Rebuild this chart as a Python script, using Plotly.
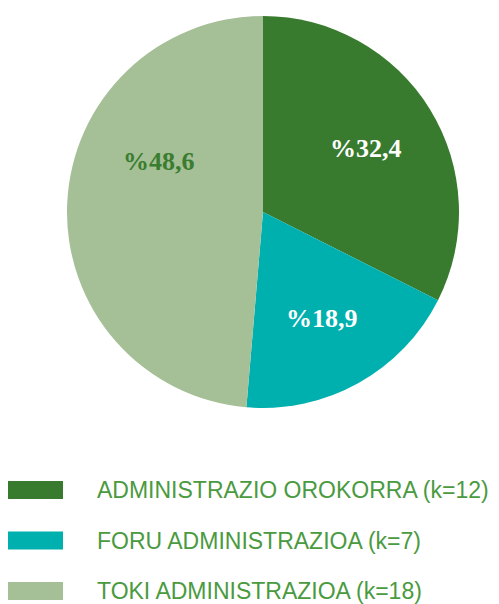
import math
import plotly.graph_objects as go

categories = ["ADMINISTRAZIO OROKORRA (k=12)", "FORU ADMINISTRAZIOA (k=7)", "TOKI ADMINISTRAZIOA (k=18)"]
values = [32.4, 18.9, 48.6]
colors = ["#387B2E", "#00B0AE", "#A5BF97"]
label_colors = ["white", "white", "#3A7D2F"]

W, H = 499, 604
texts = ["%" + f"{v:.1f}".replace(".", ",") for v in values]

# pie geometry (pixels)
cx, cy, R = 263, 212, 196

fig = go.Figure()
fig.add_trace(go.Pie(
    labels=categories, values=values, textinfo="none",
    sort=False, direction="clockwise", rotation=0,
    marker=dict(colors=colors, line=dict(width=0)),
    domain=dict(x=[(cx - R) / W, (cx + R) / W], y=[1 - (cy + R) / H, 1 - (cy - R) / H]),
    showlegend=False, hoverinfo="skip",
))

annotations = []
# percentage labels placed along slice mid-angles (last one shifted upward as in the original)
total = sum(values)
cum = 0
for i, v in enumerate(values):
    mid = (cum + v / 2) / total * 360
    cum += v
    if i == 2:
        ang, rr = 296, 0.59
    else:
        ang, rr = mid, 0.62
    a = math.radians(ang)
    px = cx + rr * R * math.sin(a)
    py = cy - rr * R * math.cos(a)
    annotations.append(dict(x=px / W, y=1 - py / H, xref="paper", yref="paper",
                            text=texts[i], showarrow=False, xanchor="center", yanchor="middle",
                            font=dict(family="Liberation Serif", size=26, color=label_colors[i],
                                      weight="bold")))

shapes = []
row_y = [490, 540.5, 591]
for i, (cat, col) in enumerate(zip(categories, colors)):
    yc = row_y[i]
    shapes.append(dict(type="rect", xref="paper", yref="paper",
                       x0=8 / W, x1=63 / W, y0=1 - (yc + 9) / H, y1=1 - (yc - 9) / H,
                       fillcolor=col, line=dict(width=0)))
    annotations.append(dict(x=95 / W, y=1 - yc / H, xref="paper", yref="paper",
                            text=cat, showarrow=False, xanchor="left", yanchor="middle",
                            font=dict(family="Liberation Sans", size=23, color="#4A9A40")))

fig.update_layout(width=W, height=H, margin=dict(l=0, r=0, t=0, b=0),
                  paper_bgcolor="white", plot_bgcolor="white",
                  shapes=shapes, annotations=annotations)
fig.write_html("out.html", config={"displayModeBar": False},
               post_script="document.body.style.margin='0';document.body.style.overflow='hidden';")
